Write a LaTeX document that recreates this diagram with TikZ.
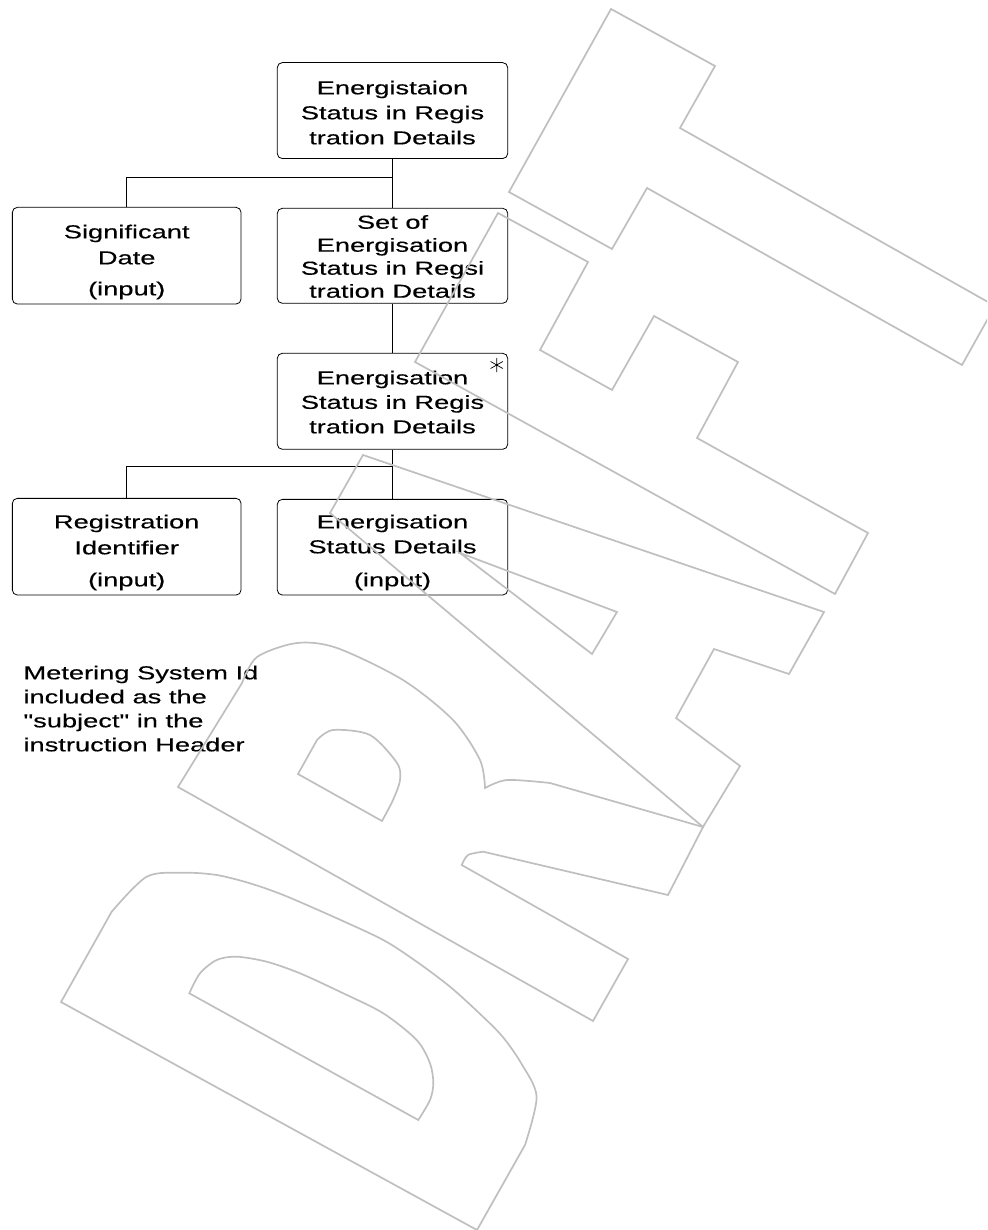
\documentclass[tikz,border=0pt]{standalone}
\usepackage{fontspec}
\newfontfamily\diag[FakeStretch=1.45,FakeBold=0.35]{Liberation Sans}
\begin{document}
\begin{tikzpicture}[x=1pt,y=-1pt,
  box/.style={draw=black, line width=0.8pt, rounded corners=5pt, inner sep=0pt, minimum width=230.4pt, minimum height=96pt},
  txt/.style={inner sep=0pt, align=center, anchor=north, font=\diag\fontsize{18.8pt}{25pt}\selectfont},
  wire/.style={draw=black, line width=0.8pt},
  wm/.style={draw=black!25, line width=1.7pt, line join=miter}]
\useasboundingbox (0,0) rectangle (987,1230);

% boxes
\node[box] (b1) at (392.5,110.6) {};
\node[box, minimum width=228.7pt, minimum height=96.7pt] (b2) at (126.7,255.7) {};
\node[box, minimum height=95pt] (b3) at (392.5,255.8) {};
\node[box] (b4) at (392.5,401.3) {};
\node[box, minimum height=95.7pt] (b5) at (392.5,547.2) {};
\node[box, minimum width=228.7pt, minimum height=96.7pt] (b6) at (126.7,546.7) {};

% texts
\node[txt] (t1) at (392.5,80.5) {Energistaion\\Status in Regis\\tration Details};
\node[txt, font=\diag\fontsize{18.8pt}{26pt}\selectfont] (t2) at (126.7,224.5) {Significant\\Date\\[5pt](input)};
\node[txt, font=\diag\fontsize{18.8pt}{23pt}\selectfont] (t3) at (392.5,214.9) {Set of\\Energisation\\Status in Regsi\\tration Details};
\node[txt, font=\diag\fontsize{18.8pt}{24.5pt}\selectfont] (t4) at (392.5,370.5) {Energisation\\Status in Regis\\tration Details};
\node[txt] (t5) at (392.5,514.5) {Energisation\\Status Details\\[8pt](input)};
\node[txt, font=\diag\fontsize{18.8pt}{26pt}\selectfont] (t6) at (126.7,514.5) {Registration\\Identifier\\[6pt](input)};
\node[txt, anchor=north west, align=left, font=\diag\fontsize{18.8pt}{24pt}\selectfont] (t7) at (23.3,665.5) {Metering System Id\\included as the\\"subject" in the\\instruction Header};

% asterisk
\draw[line width=0.7pt] (496.7,358) -- (496.7,372) (490.6,361.5) -- (502.8,368.5) (490.6,368.5) -- (502.8,361.5);

% connectors
\coordinate (j1) at (392.5,177.7);
\draw[wire] (b1.south) -- (j1) -| (b2.north);
\draw[wire] (j1) -- (b3.north);
\draw[wire] (b3.south) -- (b4.north);
\coordinate (j2) at (392.5,466.7);
\draw[wire] (b4.south) -- (j2) -| (b6.north);
\draw[wire] (j2) -- (b5.north);

% watermark DRAFT
\begin{scope}
\clip (0,0) rectangle (987,1230);
% D
\draw[wm] (61,1002) -- (111.7,911.7) -- plot[smooth] coordinates {(111.7,911.7) (146.7,876.7) (183.3,872.7) (216.7,875) (250,883.3) (283.3,895) (333.3,916.7) (383.3,940) (416.7,961.7) (450,986.7) (478,1012) (502,1036) (521.4,1063.6) (536.6,1096.7) (525,1145)} -- (477,1230) -- cycle;
\draw[wm] (189.3,993.3) -- plot[smooth] coordinates {(189.3,993.3) (200,973.3) (216.7,960) (236.7,956.7) (266.7,961.7) (300,973.3) (343.3,993.3) (383.3,1013.3) (416.7,1040) (430,1063.3) (433.3,1083.3) (430,1100) (418.3,1120)} -- cycle;
% R
\draw[wm] (178,787) -- (242,683) -- plot[smooth] coordinates {(242,683) (257,657) (297,643) (337,648) (403,680) (453,720) (480,760) (485,788)} -- plot[smooth] coordinates {(485,788) (507,780) (550,783)} -- (703,827) -- (668,895) -- (483.3,851.7) -- plot[smooth] coordinates {(483.3,851.7) (468,855) (461.7,865)} -- (628,959) -- (593,1021) -- cycle;
\draw[wm] (298,774) -- (317,740) -- plot[smooth] coordinates {(317,740) (333,730) (370,735) (397,763) (400,780) (393,800) (382,821)} -- cycle;
% A
\draw[wm] (330,513) -- (363,455) -- (824,612) -- (789,674) -- (714,649) -- (676,718) -- (740,766) -- (703,827) -- cycle;
\draw[wm] (460,553) -- (617,612) -- (592,654) -- cycle;
% F
\draw[wm] (498,213) -- (588,262) -- (540,350) -- (612,390) -- (654,316) -- (738,362) -- (697,438) -- (868,533) -- (835,594) -- (415,362) -- cycle;
% T
\draw[wm] (611,9) -- (715,66) -- (680,128) -- (995,306) -- (962,365) -- (647,188) -- (612,249) -- (509,192) -- cycle;
\end{scope}
\end{tikzpicture}
\end{document}
